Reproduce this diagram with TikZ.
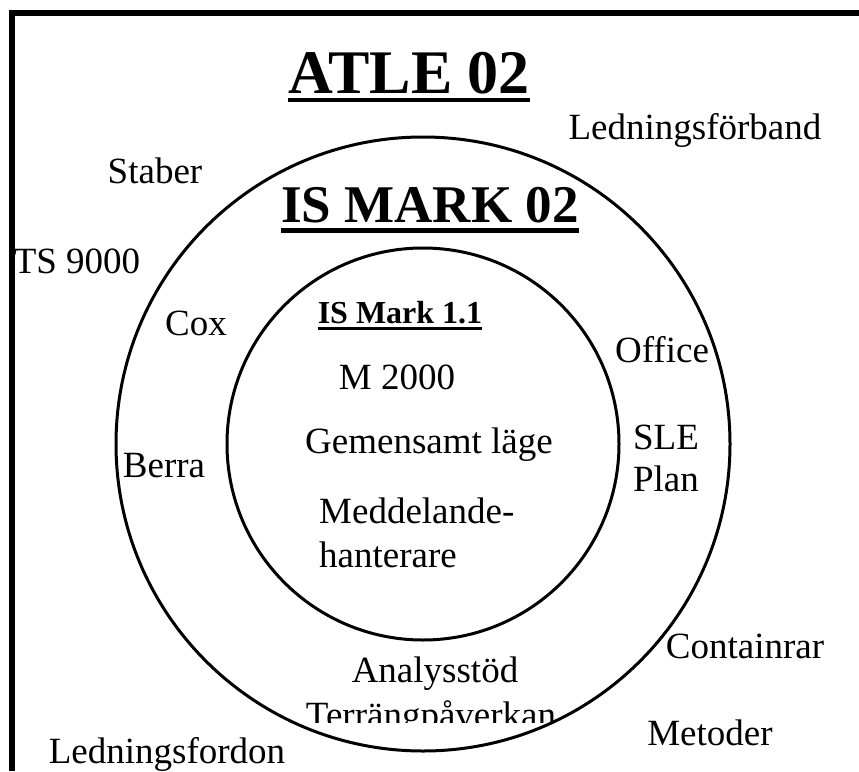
\documentclass[tikz,border=0pt]{standalone}
\usepackage{fontspec}
\setmainfont{Liberation Serif}
\usepackage{tikz}

\begin{document}
\begin{tikzpicture}[x=1pt, y=-1pt,
    lbl/.style={font=\fontsize{37}{40}\selectfont, inner sep=0pt, anchor=base},
    ring/.style={line width=3pt},
    uline/.style={line width=4pt}]
    \useasboundingbox (0,0) rectangle (859,771);

    % Open frame, top and left sides only
    \draw[line width=6pt] (859,13) -- (12,13) -- (12,771);

    % Titles
    \node[lbl, font=\fontsize{62}{64}\selectfont\bfseries] (atle) at (409,93) {ATLE 02};
    \draw[uline] ([yshift=-7pt]atle.base west) -- ([yshift=-7pt]atle.base east);
    \node[lbl, font=\fontsize{53}{56}\selectfont\bfseries] (ismark) at (430,222) {IS MARK 02};
    \draw[uline, line width=5pt] ([yshift=-8pt]ismark.base west) -- ([yshift=-8pt]ismark.base east);
    \node[lbl, font=\fontsize{32}{34}\selectfont\bfseries] (ism11) at (400,323) {IS Mark 1.1};
    \draw[uline, line width=3pt] ([yshift=-5pt]ism11.base west) -- ([yshift=-5pt]ism11.base east);

    % Outside the rings
    \node[lbl] (ledforb) at (695,139) {Ledningsförband};
    \node[lbl] (staber) at (155,183) {Staber};
    \node[lbl] (ts) at (77,273) {TS 9000};
    \node[lbl] (cont) at (745,658) {Containrar};
    \node[lbl] (metod) at (710,745) {Metoder};
    \node[lbl] (ledford) at (167,763) {Ledningsfordon};

    % Outer ring
    \node[lbl] (cox) at (196,335) {Cox};
    \node[lbl] (berra) at (164,477) {Berra};
    \node[lbl] (office) at (662,362) {Office};
    \node[lbl] (sle) at (666,449) {SLE};
    \node[lbl] (plan) at (666,491) {Plan};
    \node[lbl] (analys) at (435,682) {Analysstöd};
    \begin{scope}
        \clip (0,0) rectangle (859,722);
        \node[lbl] (terr) at (431,727) {Terrängpåverkan};
    \end{scope}

    % Inner ring
    \node[lbl] (m2000) at (397,389) {M 2000};
    \node[lbl] (gemens) at (429,453) {Gemensamt läge};
    \node[lbl, anchor=base west] (medd) at (319,523) {Meddelande-};
    \node[lbl, anchor=base west] (hant) at (319,567) {hanterare};

    % Rings
    \draw[ring] (423,444) circle[radius=307pt];
    \draw[ring] (423,444) circle[radius=196pt];
\end{tikzpicture}
\end{document}
